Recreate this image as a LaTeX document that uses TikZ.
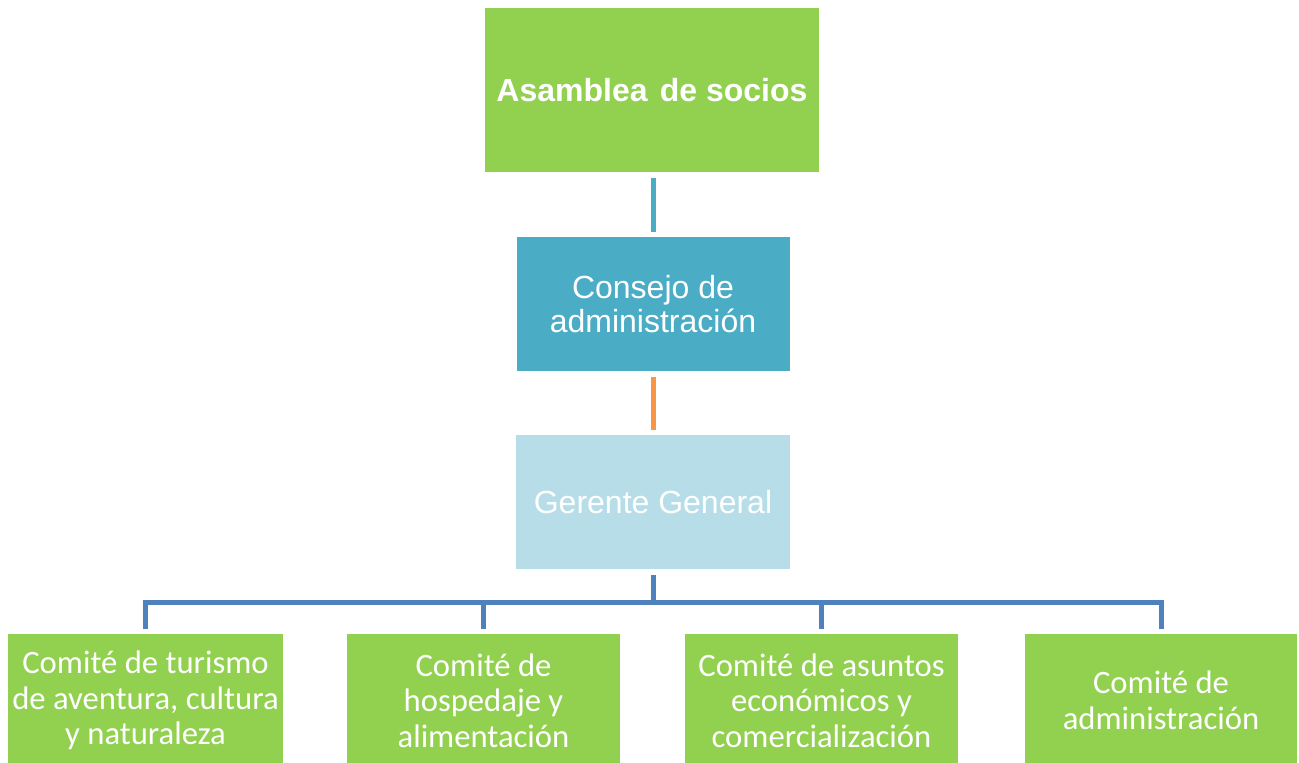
\documentclass[tikz,border=0pt]{standalone}
\usepackage{fontspec}
\newfontfamily\arialf{Liberation Sans}
\newfontfamily\calibrif{Carlito}
\definecolor{cgreen}{HTML}{92D050}
\definecolor{cteal}{HTML}{4BACC6}
\definecolor{clight}{HTML}{B7DEE8}
\definecolor{cblue}{HTML}{4F81BD}
\definecolor{corange}{HTML}{F79646}
\tikzset{
  boxbase/.style={rectangle, inner sep=0pt, align=center, text=white},
  topbox/.style={boxbase, fill=cgreen, font=\arialf\bfseries\fontsize{24}{27}\selectfont},
  midbox/.style={boxbase, font=\arialf\fontsize{24}{25}\selectfont},
  lowbox/.style={boxbase, fill=cgreen, minimum height=99.75pt, font=\calibrif\fontsize{24.5}{26.6}\selectfont},
  conn/.style={line width=3.75pt, shorten <=4.2pt, shorten >=3.8pt},
}
\begin{document}
\begin{tikzpicture}[x=0.75pt,y=-0.75pt]
\clip (0,0) rectangle (1299,763);
\fill[white] (0,0) rectangle (1299,763);
\node[topbox, minimum width=250.5pt, minimum height=123pt] (a) at (652,90) {Asamblea\hspace{2.5pt} de socios};
\node[midbox, fill=cteal, minimum width=204.75pt, minimum height=100.5pt] (c) at (653,304) {Consejo de\\administración};
\node[midbox, fill=clight, minimum width=205.5pt, minimum height=100.5pt] (g) at (653,502) {Gerente General};
\node[lowbox, minimum width=206.25pt] (b1) at (145.5,700.5) {Comité de turismo\\de aventura, cultura\\y naturaleza};
\node[lowbox, minimum width=204.75pt] (b2) at (483.5,700.5) {Comité de\\hospedaje y\\alimentación};
\node[lowbox, minimum width=204.75pt] (b3) at (821.5,700.5) {Comité de asuntos\\económicos y\\comercialización};
\node[lowbox, minimum width=204pt] (b4) at (1161,700.5) {Comité de\\administración};
\coordinate (bar) at (653,602);
\draw[conn, cteal] (c.north |- a.south) -- (c.north);
\draw[conn, corange] (c.south) -- (g.north);
\draw[conn, cblue, shorten >=0pt] (g.south) -- (bar);
\draw[conn, cblue, shorten <=0pt] (bar) -| (b1.north);
\draw[conn, cblue, shorten <=0pt] (bar) -| (b2.north);
\draw[conn, cblue, shorten <=0pt] (bar) -| (b3.north);
\draw[conn, cblue, shorten <=0pt] (bar) -| (b4.north);
\end{tikzpicture}
\end{document}
